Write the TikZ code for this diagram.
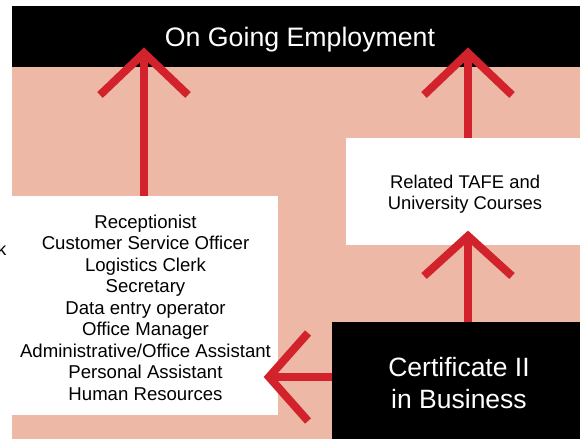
\documentclass[tikz,border=0pt]{standalone}
\usepackage{fontspec}
\setmainfont{Liberation Sans}
\definecolor{pinkbg}{HTML}{EDB8A6}
\definecolor{arrred}{HTML}{D2232C}
\begin{document}
\begin{tikzpicture}[x=1bp,y=-1bp,
  blackbox/.style={fill=black,text=white,inner sep=0pt,align=center},
  whitebox/.style={fill=white,text=black,inner sep=0pt,align=center},
  shaft/.style={draw=arrred,line width=8bp},
  head/.style={draw=arrred,line width=8bp,line join=miter}]
\useasboundingbox[fill=white] (0,0) rectangle (580,439);
% backgrounds
\fill[pinkbg] (12,67) rectangle (580,439);
\node[blackbox,minimum width=568bp,minimum height=61bp] (top) at (296,36.5) {};
\node[text=white,inner sep=0pt,text depth=0pt,font=\fontsize{26.7bp}{30bp}\selectfont] (title) at (300,37) {On Going Employment};
\node[whitebox,minimum width=266bp,minimum height=219bp] (jobs) at (145,305.5) {};
\node[inner sep=0pt,align=center,font=\fontsize{18.6bp}{21.5bp}\selectfont] (jobstxt) at (145.5,307.5)
  {Receptionist\\Customer Service Officer\\Logistics Clerk\\Secretary\\Data entry operator\\Office Manager\\Administrative/Office Assistant\\Personal Assistant\\Human Resources};
\node[whitebox,minimum width=234bp,minimum height=107bp] (tafe) at (463,191.5) {};
\node[inner sep=0pt,align=center,font=\fontsize{18.4bp}{21bp}\selectfont] (tafetxt) at (465,194)
  {Related TAFE and\\University Courses};
\node[blackbox,minimum width=248bp,minimum height=117bp] (cert) at (456,380.5) {};
\node[text=white,inner sep=0pt,align=center,font=\fontsize{26.5bp}{32bp}\selectfont] (certtxt) at (459,383.5)
  {Certificate II\\in Business};
\node[anchor=east,inner sep=0pt,font=\fontsize{18bp}{21bp}\selectfont] (frag) at (6.5,249) {k};
% arrow tips
\coordinate (t1) at (144,53);
\coordinate (t2) at (468,53);
\coordinate (t3) at (468,236);
\coordinate (t4) at (269,377);
% connectors
\draw[shaft] (t1 |- jobs.north) -- (t1);
\draw[head] ([shift={(-44,42)}]t1) -- (t1) -- ([shift={(44,42)}]t1);
\draw[shaft] (t2 |- tafe.north) -- (t2);
\draw[head] ([shift={(-44,42)}]t2) -- (t2) -- ([shift={(44,42)}]t2);
\draw[shaft] (t3 |- cert.north) -- (t3);
\draw[head] ([shift={(-44,40)}]t3) -- (t3) -- ([shift={(44,40)}]t3);
\draw[shaft] (t4 -| cert.west) -- (t4);
\draw[head] ([shift={(39,-44)}]t4) -- (t4) -- ([shift={(39,44)}]t4);
\end{tikzpicture}
\end{document}
